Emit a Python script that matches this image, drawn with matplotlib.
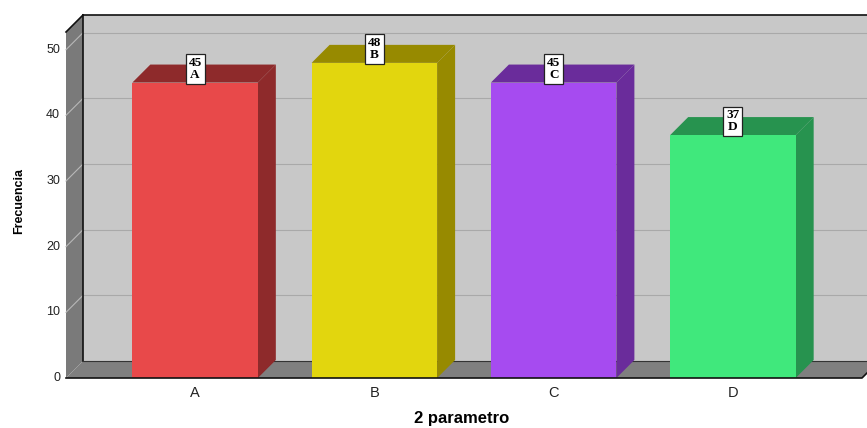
import matplotlib
matplotlib.use("Agg")
import matplotlib.pyplot as plt
from matplotlib.patches import Polygon
from matplotlib.transforms import IdentityTransform

categories = ["A", "B", "C", "D"]
counts = [45, 48, 45, 37]
front_colors = ["#E8494A", "#E2D60E", "#A64BF0", "#40E87C"]
side_colors = ["#8E2A2B", "#978A00", "#6A2C9B", "#27934F"]
y_ticks = [0, 10, 20, 30, 40, 50]

W, H, DPI = 867, 428, 100
fig = plt.figure(figsize=(W / DPI, H / DPI), dpi=DPI)
ax = fig.add_axes([66 / W, 50 / H, (862 - 66) / W, (378 - 32) / H])
ax.set_xlim(-0.72, 3.72)
ax.set_ylim(0, 52.7)
ax.set_axis_off()

WALL = 17   # depth of the walls in pixels
BAR = 18    # depth of the bars in pixels
ident = IdentityTransform()


def px(x, y):
    return ax.transData.transform((x, y))


def shifted(p, d):
    return (p[0] + d, p[1] + d)


def poly(pts, color, z, ec="none", lw=0):
    ax.add_patch(Polygon(pts, closed=True, facecolor=color, edgecolor=ec,
                         linewidth=lw, transform=ident, clip_on=False, zorder=z))


x0, x1 = ax.get_xlim()
y0, y1 = ax.get_ylim()

# back wall
bl, tl, tr, br = px(x0, y0), px(x0, y1), px(x1, y1), px(x1, y0)
poly([shifted(bl, WALL), shifted(tl, WALL), shifted(tr, WALL), shifted(br, WALL)],
     "#C8C8C8", 0)
# left side wall
poly([bl, tl, shifted(tl, WALL), shifted(bl, WALL)], "#7A7A7A", 1)
# floor
poly([bl, br, shifted(br, WALL), shifted(bl, WALL)], "#7F7F7F", 1)

# grid lines on the back wall and the side wall
for v in y_ticks[1:]:
    a = px(x0, v)
    b = px(x1, v)
    ax.plot([a[0] + WALL, b[0] + WALL], [a[1] + WALL, b[1] + WALL], color="#A9A9A9",
            lw=0.8, transform=ident, clip_on=False, zorder=0.5)
    ax.plot([a[0], a[0] + WALL], [a[1], a[1] + WALL], color="#B8B8B8",
            lw=0.8, transform=ident, clip_on=False, zorder=1.5)

# dark edges of the box
lw = 1.2
ax.plot([tl[0] + WALL, tr[0] + WALL], [tl[1] + WALL, tr[1] + WALL], color="#111111",
        lw=lw, transform=ident, clip_on=False, zorder=2)
ax.plot([tl[0] + WALL, bl[0] + WALL], [tl[1] + WALL, bl[1] + WALL], color="#111111",
        lw=lw, transform=ident, clip_on=False, zorder=2)
ax.plot([tl[0], tl[0] + WALL], [tl[1], tl[1] + WALL], color="#111111",
        lw=lw, transform=ident, clip_on=False, zorder=2)
ax.plot([bl[0] + WALL, br[0] + WALL], [bl[1] + WALL, br[1] + WALL], color="#333333",
        lw=0.8, transform=ident, clip_on=False, zorder=2)
ax.plot([bl[0], br[0], br[0] + WALL], [bl[1], br[1], br[1] + WALL], color="#111111",
        lw=lw, transform=ident, clip_on=False, zorder=6)

# bars
width = 0.70
for i, (v, fc, sc) in enumerate(zip(counts, front_colors, side_colors)):
    left, right = i - width / 2, i + width / 2
    ax.bar(i, v, width=width, color=fc, zorder=4, clip_on=False)
    p_bl, p_tl, p_tr, p_br = px(left, 0), px(left, v), px(right, v), px(right, 0)
    # right side face
    poly([p_br, p_tr, shifted(p_tr, BAR), shifted(p_br, BAR)], sc, 3)
    # top face
    poly([p_tl, p_tr, shifted(p_tr, BAR), shifted(p_tl, BAR)], sc, 3)
    ax.annotate(f"{v}\n{categories[i]}", xy=(i, v), xytext=(0, 1.2),
                textcoords="offset points", ha="center", va="bottom",
                fontsize=9.5, fontweight="bold", family="Liberation Serif",
                linespacing=1.0, zorder=7,
                bbox=dict(boxstyle="square,pad=0.22", fc="white", ec="#222222", lw=0.9))

# tick labels
for v in y_ticks:
    p = px(x0, v)
    fig.text((p[0] - 6) / W, p[1] / H, str(v), ha="right", va="center",
             fontsize=9, color="#222222", family="Liberation Sans")
for i, c in enumerate(categories):
    p = px(i, 0)
    fig.text(p[0] / W, (p[1] - 15) / H, c, ha="center", va="center",
             fontsize=10.5, color="#222222", family="Liberation Sans")

fig.text(462 / W, 9 / H, "2 parametro", ha="center", va="center",
         fontsize=12, fontweight="bold", family="Liberation Sans")
fig.text(19 / W, (H - 201) / H, "Frecuencia", ha="center", va="center", rotation=90,
         fontsize=9, fontweight="bold", family="Liberation Sans")

fig.savefig("out.png", dpi=DPI, facecolor="white")
